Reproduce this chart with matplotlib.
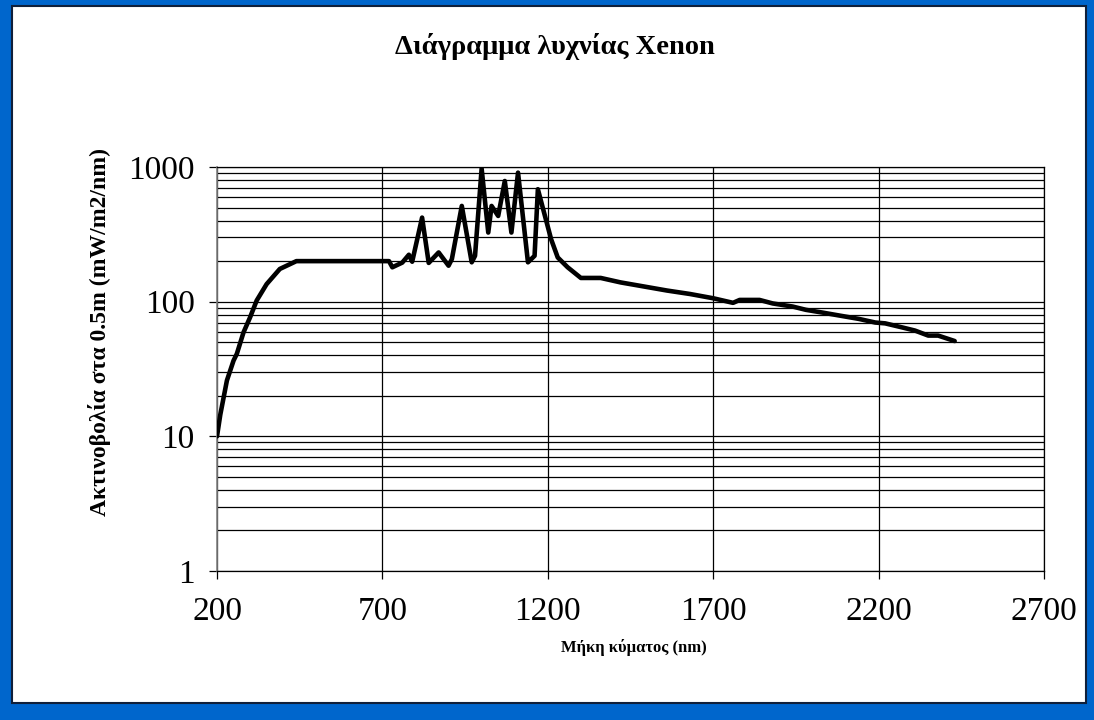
import numpy as np
import matplotlib
matplotlib.use('Agg')
import matplotlib.pyplot as plt
from matplotlib.patches import Rectangle
from matplotlib.ticker import LogLocator, FixedLocator, NullFormatter

plt.rcParams['font.family'] = ['Liberation Serif', 'DejaVu Serif']

# Xenon lamp spectrum
wavelength_nm = [200, 210, 230, 250, 260, 280, 300, 320, 350, 390, 440,
                 720, 730, 760, 780, 790, 820, 840, 870, 900, 910, 940,
                 970, 980, 1000, 1020, 1030, 1050, 1070, 1090, 1110, 1140,
                 1160, 1170, 1210, 1230, 1260, 1300, 1360, 1420, 1480, 1560,
                 1630, 1700, 1760, 1780, 1840, 1880, 1940, 1980, 2030, 2080,
                 2140, 2190, 2220, 2270, 2310, 2350, 2380, 2430]
irradiance = [10, 14.5, 26, 36.5, 41, 59, 76.5, 102, 135, 175, 200,
              200, 180, 195, 223, 198, 421, 194, 232, 185, 207, 514,
              196, 219, 972, 326, 514, 433, 787, 326, 908, 196,
              219, 684, 291, 213, 180, 150, 150, 139, 131, 121,
              114, 106, 98, 103, 103, 97, 92, 87, 83, 79,
              74.5, 70, 69, 64.5, 61, 56, 56, 51]

x_ticks = [200, 700, 1200, 1700, 2200, 2700]
y_ticks = [1, 10, 100, 1000]

title = 'Διάγραμμα λυχνίας Xenon'
xlabel = 'Μήκη κύματος (nm)'
ylabel = 'Ακτινοβολία στα 0.5m (mW/m2/nm)'

W, H = 1094, 720
fig = plt.figure(figsize=(W / 100, H / 100), dpi=100, facecolor='#0066CC')

# white panel inside the blue frame (drawn below the axes)
fig.patches.append(Rectangle((12 / W, 1 - 703 / H), (1086 - 12) / W, (703 - 6) / H,
                             transform=fig.transFigure, facecolor='white',
                             edgecolor='#10203a', linewidth=1.5, zorder=-1))

ax = fig.add_axes([217 / W, 1 - 571 / H, (1044 - 217) / W, (571 - 167) / H])
ax.set_zorder(1)
ax.set_facecolor('white')

ax.plot(wavelength_nm, irradiance, color='black', linewidth=3.3,
        solid_joinstyle='round', solid_capstyle='round', zorder=3)

ax.set_yscale('log')
ax.set_ylim(1, 1000)
ax.set_xlim(200, 2700)

ax.xaxis.set_major_locator(FixedLocator(x_ticks))
ax.yaxis.set_major_locator(FixedLocator(y_ticks))
ax.yaxis.set_minor_locator(LogLocator(base=10, subs=np.arange(2, 10)))
ax.yaxis.set_minor_formatter(NullFormatter())
ax.set_xticklabels([str(v) for v in x_ticks])
ax.set_yticklabels([str(v) for v in y_ticks])

ax.grid(True, which='major', axis='both', color='black', linewidth=0.9)
ax.grid(True, which='minor', axis='y', color='black', linewidth=0.9)
ax.tick_params(axis='both', which='major', direction='out', length=6,
               width=0.9, labelsize=24, color='black')
ax.tick_params(axis='y', which='minor', length=0)
ax.tick_params(axis='x', pad=12)
ax.tick_params(axis='y', pad=10)

for side in ['top', 'right', 'bottom']:
    ax.spines[side].set_color('black')
    ax.spines[side].set_linewidth(0.9)
ax.spines['left'].set_color('#808080')
ax.spines['left'].set_linewidth(1.2)

fig.text(555 / W, 1 - 47 / H, title, ha='center', va='center',
         fontsize=20.5, fontweight='bold')
fig.text(634 / W, 1 - 648 / H, xlabel, ha='center', va='center',
         fontsize=12, fontweight='bold')
fig.text(100 / W, 1 - 332 / H, ylabel, ha='center', va='center',
         rotation=90, fontsize=17, fontweight='bold')

fig.savefig('out.png', dpi=100, facecolor=fig.get_facecolor())
